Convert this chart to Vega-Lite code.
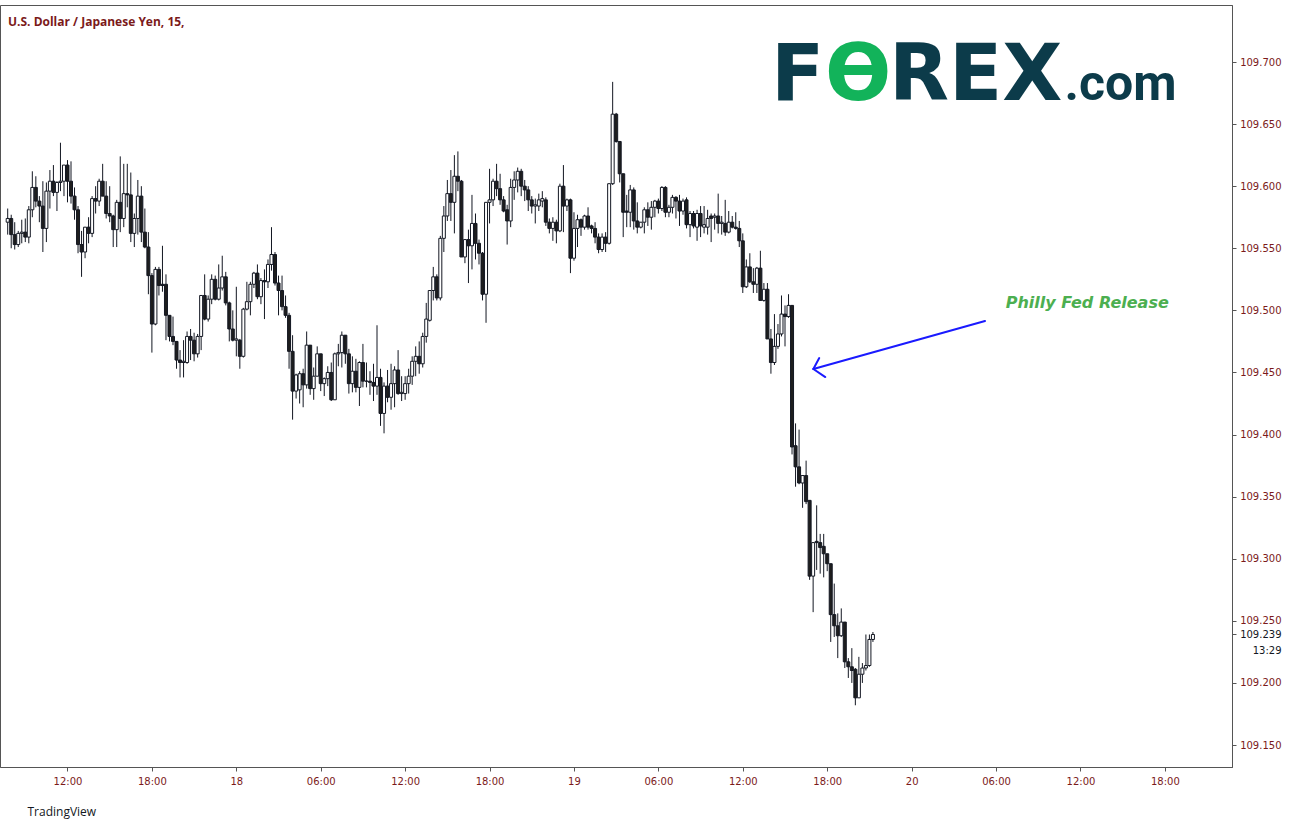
{
"$schema": "https://vega.github.io/schema/vega-lite/v6.json",
"width": 1232, "height": 762,
"autosize": {"type": "none"},
"padding": {"left": 0, "top": 5, "right": 64, "bottom": 63},
"background": "white",
"config": {"view": {"stroke": "#555555", "strokeWidth": 1}},
"title": {"text": "U.S. Dollar / Japanese Yen, 15,", "anchor": "start", "frame": "group", "orient": "top", "offset": -33, "dx": 8, "baseline": "alphabetic", "font": "Open Sans", "fontSize": 12, "fontWeight": "bold", "color": "#7b1a1a"},
"datasets": {
"candles": [
{"t":"2019-09-17T07:45:00Z","o":109.571,"h":109.582,"l":109.561,"c":109.574},
{"t":"2019-09-17T08:00:00Z","o":109.574,"h":109.577,"l":109.550,"c":109.561},
{"t":"2019-09-17T08:15:00Z","o":109.561,"h":109.571,"l":109.549,"c":109.553},
{"t":"2019-09-17T08:30:00Z","o":109.553,"h":109.564,"l":109.551,"c":109.562},
{"t":"2019-09-17T08:45:00Z","o":109.562,"h":109.573,"l":109.554,"c":109.563},
{"t":"2019-09-17T09:00:00Z","o":109.563,"h":109.574,"l":109.555,"c":109.559},
{"t":"2019-09-17T09:15:00Z","o":109.559,"h":109.584,"l":109.554,"c":109.581},
{"t":"2019-09-17T09:30:00Z","o":109.581,"h":109.612,"l":109.575,"c":109.599},
{"t":"2019-09-17T09:45:00Z","o":109.599,"h":109.608,"l":109.583,"c":109.588},
{"t":"2019-09-17T10:00:00Z","o":109.588,"h":109.592,"l":109.571,"c":109.584},
{"t":"2019-09-17T10:15:00Z","o":109.584,"h":109.604,"l":109.547,"c":109.566},
{"t":"2019-09-17T10:30:00Z","o":109.566,"h":109.603,"l":109.555,"c":109.596},
{"t":"2019-09-17T10:45:00Z","o":109.596,"h":109.613,"l":109.582,"c":109.604},
{"t":"2019-09-17T11:00:00Z","o":109.604,"h":109.617,"l":109.592,"c":109.595},
{"t":"2019-09-17T11:15:00Z","o":109.595,"h":109.604,"l":109.580,"c":109.603},
{"t":"2019-09-17T11:30:00Z","o":109.603,"h":109.635,"l":109.596,"c":109.604},
{"t":"2019-09-17T11:45:00Z","o":109.604,"h":109.617,"l":109.592,"c":109.617},
{"t":"2019-09-17T12:00:00Z","o":109.617,"h":109.621,"l":109.587,"c":109.604},
{"t":"2019-09-17T12:15:00Z","o":109.604,"h":109.620,"l":109.586,"c":109.592},
{"t":"2019-09-17T12:30:00Z","o":109.592,"h":109.599,"l":109.573,"c":109.581},
{"t":"2019-09-17T12:45:00Z","o":109.581,"h":109.584,"l":109.546,"c":109.553},
{"t":"2019-09-17T13:00:00Z","o":109.553,"h":109.564,"l":109.527,"c":109.547},
{"t":"2019-09-17T13:15:00Z","o":109.547,"h":109.567,"l":109.542,"c":109.567},
{"t":"2019-09-17T13:30:00Z","o":109.567,"h":109.575,"l":109.554,"c":109.562},
{"t":"2019-09-17T13:45:00Z","o":109.562,"h":109.592,"l":109.559,"c":109.590},
{"t":"2019-09-17T14:00:00Z","o":109.590,"h":109.600,"l":109.578,"c":109.588},
{"t":"2019-09-17T14:15:00Z","o":109.588,"h":109.606,"l":109.584,"c":109.604},
{"t":"2019-09-17T14:30:00Z","o":109.604,"h":109.618,"l":109.592,"c":109.592},
{"t":"2019-09-17T14:45:00Z","o":109.592,"h":109.604,"l":109.574,"c":109.578},
{"t":"2019-09-17T15:00:00Z","o":109.578,"h":109.600,"l":109.571,"c":109.576},
{"t":"2019-09-17T15:15:00Z","o":109.576,"h":109.577,"l":109.551,"c":109.565},
{"t":"2019-09-17T15:30:00Z","o":109.565,"h":109.589,"l":109.551,"c":109.587},
{"t":"2019-09-17T15:45:00Z","o":109.587,"h":109.624,"l":109.563,"c":109.574},
{"t":"2019-09-17T16:00:00Z","o":109.574,"h":109.618,"l":109.567,"c":109.594},
{"t":"2019-09-17T16:15:00Z","o":109.594,"h":109.618,"l":109.583,"c":109.593},
{"t":"2019-09-17T16:30:00Z","o":109.593,"h":109.611,"l":109.555,"c":109.562},
{"t":"2019-09-17T16:45:00Z","o":109.562,"h":109.578,"l":109.551,"c":109.574},
{"t":"2019-09-17T17:00:00Z","o":109.574,"h":109.605,"l":109.561,"c":109.592},
{"t":"2019-09-17T17:15:00Z","o":109.592,"h":109.600,"l":109.555,"c":109.563},
{"t":"2019-09-17T17:30:00Z","o":109.563,"h":109.582,"l":109.550,"c":109.551},
{"t":"2019-09-17T17:45:00Z","o":109.551,"h":109.563,"l":109.513,"c":109.528},
{"t":"2019-09-17T18:00:00Z","o":109.528,"h":109.530,"l":109.466,"c":109.489},
{"t":"2019-09-17T18:15:00Z","o":109.489,"h":109.535,"l":109.488,"c":109.533},
{"t":"2019-09-17T18:30:00Z","o":109.533,"h":109.535,"l":109.512,"c":109.520},
{"t":"2019-09-17T18:45:00Z","o":109.521,"h":109.552,"l":109.515,"c":109.520},
{"t":"2019-09-17T19:00:00Z","o":109.521,"h":109.529,"l":109.476,"c":109.496},
{"t":"2019-09-17T19:15:00Z","o":109.496,"h":109.496,"l":109.475,"c":109.479},
{"t":"2019-09-17T19:30:00Z","o":109.479,"h":109.495,"l":109.472,"c":109.475},
{"t":"2019-09-17T19:45:00Z","o":109.475,"h":109.475,"l":109.453,"c":109.460},
{"t":"2019-09-17T20:00:00Z","o":109.460,"h":109.468,"l":109.446,"c":109.458},
{"t":"2019-09-17T20:15:00Z","o":109.458,"h":109.476,"l":109.446,"c":109.459},
{"t":"2019-09-17T20:30:00Z","o":109.458,"h":109.483,"l":109.457,"c":109.479},
{"t":"2019-09-17T20:45:00Z","o":109.479,"h":109.485,"l":109.460,"c":109.476},
{"t":"2019-09-17T21:00:00Z","o":109.476,"h":109.482,"l":109.459,"c":109.465},
{"t":"2019-09-17T21:15:00Z","o":109.465,"h":109.481,"l":109.462,"c":109.479},
{"t":"2019-09-17T21:30:00Z","o":109.479,"h":109.512,"l":109.468,"c":109.512},
{"t":"2019-09-17T21:45:00Z","o":109.512,"h":109.529,"l":109.492,"c":109.493},
{"t":"2019-09-17T22:00:00Z","o":109.493,"h":109.512,"l":109.491,"c":109.509},
{"t":"2019-09-17T22:15:00Z","o":109.509,"h":109.529,"l":109.505,"c":109.525},
{"t":"2019-09-17T22:30:00Z","o":109.525,"h":109.528,"l":109.508,"c":109.509},
{"t":"2019-09-17T22:45:00Z","o":109.509,"h":109.537,"l":109.508,"c":109.518},
{"t":"2019-09-17T23:00:00Z","o":109.518,"h":109.544,"l":109.516,"c":109.527},
{"t":"2019-09-17T23:15:00Z","o":109.527,"h":109.531,"l":109.504,"c":109.506},
{"t":"2019-09-17T23:30:00Z","o":109.506,"h":109.507,"l":109.475,"c":109.485},
{"t":"2019-09-17T23:45:00Z","o":109.485,"h":109.500,"l":109.475,"c":109.476},
{"t":"2019-09-18T00:00:00Z","o":109.476,"h":109.519,"l":109.463,"c":109.477},
{"t":"2019-09-18T00:15:00Z","o":109.476,"h":109.477,"l":109.453,"c":109.463},
{"t":"2019-09-18T00:30:00Z","o":109.463,"h":109.502,"l":109.462,"c":109.501},
{"t":"2019-09-18T00:45:00Z","o":109.501,"h":109.523,"l":109.500,"c":109.507},
{"t":"2019-09-18T01:00:00Z","o":109.507,"h":109.523,"l":109.496,"c":109.521},
{"t":"2019-09-18T01:15:00Z","o":109.521,"h":109.531,"l":109.518,"c":109.530},
{"t":"2019-09-18T01:30:00Z","o":109.530,"h":109.537,"l":109.509,"c":109.511},
{"t":"2019-09-18T01:45:00Z","o":109.511,"h":109.526,"l":109.505,"c":109.524},
{"t":"2019-09-18T02:00:00Z","o":109.524,"h":109.533,"l":109.493,"c":109.523},
{"t":"2019-09-18T02:15:00Z","o":109.523,"h":109.541,"l":109.518,"c":109.537},
{"t":"2019-09-18T02:30:00Z","o":109.537,"h":109.567,"l":109.532,"c":109.545},
{"t":"2019-09-18T02:45:00Z","o":109.545,"h":109.547,"l":109.520,"c":109.522},
{"t":"2019-09-18T03:00:00Z","o":109.522,"h":109.528,"l":109.496,"c":109.516},
{"t":"2019-09-18T03:15:00Z","o":109.516,"h":109.528,"l":109.500,"c":109.503},
{"t":"2019-09-18T03:30:00Z","o":109.503,"h":109.512,"l":109.494,"c":109.496},
{"t":"2019-09-18T03:45:00Z","o":109.496,"h":109.498,"l":109.453,"c":109.467},
{"t":"2019-09-18T04:00:00Z","o":109.467,"h":109.480,"l":109.412,"c":109.435},
{"t":"2019-09-18T04:15:00Z","o":109.435,"h":109.449,"l":109.429,"c":109.448},
{"t":"2019-09-18T04:30:00Z","o":109.436,"h":109.451,"l":109.425,"c":109.449},
{"t":"2019-09-18T04:45:00Z","o":109.449,"h":109.453,"l":109.422,"c":109.440},
{"t":"2019-09-18T05:00:00Z","o":109.440,"h":109.483,"l":109.437,"c":109.472},
{"t":"2019-09-18T05:15:00Z","o":109.472,"h":109.472,"l":109.432,"c":109.437},
{"t":"2019-09-18T05:30:00Z","o":109.437,"h":109.454,"l":109.428,"c":109.447},
{"t":"2019-09-18T05:45:00Z","o":109.447,"h":109.471,"l":109.447,"c":109.465},
{"t":"2019-09-18T06:00:00Z","o":109.465,"h":109.465,"l":109.435,"c":109.441},
{"t":"2019-09-18T06:15:00Z","o":109.441,"h":109.446,"l":109.431,"c":109.445},
{"t":"2019-09-18T06:30:00Z","o":109.445,"h":109.455,"l":109.439,"c":109.450},
{"t":"2019-09-18T06:45:00Z","o":109.450,"h":109.458,"l":109.427,"c":109.428},
{"t":"2019-09-18T07:00:00Z","o":109.428,"h":109.466,"l":109.428,"c":109.465},
{"t":"2019-09-18T07:15:00Z","o":109.465,"h":109.473,"l":109.455,"c":109.466},
{"t":"2019-09-18T07:30:00Z","o":109.466,"h":109.483,"l":109.454,"c":109.480},
{"t":"2019-09-18T07:45:00Z","o":109.480,"h":109.480,"l":109.457,"c":109.465},
{"t":"2019-09-18T08:00:00Z","o":109.465,"h":109.469,"l":109.433,"c":109.441},
{"t":"2019-09-18T08:15:00Z","o":109.441,"h":109.463,"l":109.434,"c":109.451},
{"t":"2019-09-18T08:30:00Z","o":109.451,"h":109.461,"l":109.434,"c":109.438},
{"t":"2019-09-18T08:45:00Z","o":109.438,"h":109.459,"l":109.423,"c":109.458},
{"t":"2019-09-18T09:00:00Z","o":109.458,"h":109.473,"l":109.438,"c":109.443},
{"t":"2019-09-18T09:15:00Z","o":109.443,"h":109.458,"l":109.438,"c":109.443},
{"t":"2019-09-18T09:30:00Z","o":109.443,"h":109.451,"l":109.432,"c":109.442},
{"t":"2019-09-18T09:45:00Z","o":109.442,"h":109.457,"l":109.427,"c":109.439},
{"t":"2019-09-18T10:00:00Z","o":109.439,"h":109.488,"l":109.432,"c":109.446},
{"t":"2019-09-18T10:15:00Z","o":109.446,"h":109.453,"l":109.407,"c":109.417},
{"t":"2019-09-18T10:30:00Z","o":109.417,"h":109.442,"l":109.401,"c":109.439},
{"t":"2019-09-18T10:45:00Z","o":109.439,"h":109.452,"l":109.426,"c":109.430},
{"t":"2019-09-18T11:00:00Z","o":109.430,"h":109.457,"l":109.420,"c":109.441},
{"t":"2019-09-18T11:15:00Z","o":109.441,"h":109.455,"l":109.422,"c":109.452},
{"t":"2019-09-18T11:30:00Z","o":109.452,"h":109.468,"l":109.432,"c":109.433},
{"t":"2019-09-18T11:45:00Z","o":109.433,"h":109.447,"l":109.427,"c":109.434},
{"t":"2019-09-18T12:00:00Z","o":109.433,"h":109.447,"l":109.428,"c":109.441},
{"t":"2019-09-18T12:15:00Z","o":109.441,"h":109.453,"l":109.433,"c":109.447},
{"t":"2019-09-18T12:30:00Z","o":109.447,"h":109.463,"l":109.440,"c":109.459},
{"t":"2019-09-18T12:45:00Z","o":109.459,"h":109.471,"l":109.447,"c":109.463},
{"t":"2019-09-18T13:00:00Z","o":109.463,"h":109.475,"l":109.449,"c":109.457},
{"t":"2019-09-18T13:15:00Z","o":109.457,"h":109.482,"l":109.454,"c":109.479},
{"t":"2019-09-18T13:30:00Z","o":109.479,"h":109.506,"l":109.474,"c":109.493},
{"t":"2019-09-18T13:45:00Z","o":109.492,"h":109.516,"l":109.491,"c":109.516},
{"t":"2019-09-18T14:00:00Z","o":109.516,"h":109.535,"l":109.508,"c":109.527},
{"t":"2019-09-18T14:15:00Z","o":109.527,"h":109.529,"l":109.508,"c":109.510},
{"t":"2019-09-18T14:30:00Z","o":109.510,"h":109.560,"l":109.508,"c":109.558},
{"t":"2019-09-18T14:45:00Z","o":109.558,"h":109.584,"l":109.547,"c":109.576},
{"t":"2019-09-18T15:00:00Z","o":109.576,"h":109.605,"l":109.572,"c":109.594},
{"t":"2019-09-18T15:15:00Z","o":109.594,"h":109.613,"l":109.572,"c":109.587},
{"t":"2019-09-18T15:30:00Z","o":109.587,"h":109.625,"l":109.562,"c":109.608},
{"t":"2019-09-18T15:45:00Z","o":109.608,"h":109.628,"l":109.596,"c":109.604},
{"t":"2019-09-18T16:00:00Z","o":109.604,"h":109.605,"l":109.543,"c":109.543},
{"t":"2019-09-18T16:15:00Z","o":109.543,"h":109.557,"l":109.538,"c":109.557},
{"t":"2019-09-18T16:30:00Z","o":109.557,"h":109.565,"l":109.522,"c":109.552},
{"t":"2019-09-18T16:45:00Z","o":109.552,"h":109.593,"l":109.533,"c":109.570},
{"t":"2019-09-18T17:00:00Z","o":109.570,"h":109.578,"l":109.541,"c":109.554},
{"t":"2019-09-18T17:15:00Z","o":109.554,"h":109.557,"l":109.537,"c":109.546},
{"t":"2019-09-18T17:30:00Z","o":109.546,"h":109.547,"l":109.508,"c":109.513},
{"t":"2019-09-18T17:45:00Z","o":109.513,"h":109.587,"l":109.490,"c":109.587},
{"t":"2019-09-18T18:00:00Z","o":109.587,"h":109.614,"l":109.570,"c":109.589},
{"t":"2019-09-18T18:15:00Z","o":109.589,"h":109.606,"l":109.584,"c":109.604},
{"t":"2019-09-18T18:30:00Z","o":109.604,"h":109.618,"l":109.592,"c":109.598},
{"t":"2019-09-18T18:45:00Z","o":109.598,"h":109.610,"l":109.585,"c":109.589},
{"t":"2019-09-18T19:00:00Z","o":109.589,"h":109.592,"l":109.579,"c":109.580},
{"t":"2019-09-18T19:15:00Z","o":109.581,"h":109.585,"l":109.553,"c":109.572},
{"t":"2019-09-18T19:30:00Z","o":109.572,"h":109.606,"l":109.567,"c":109.599},
{"t":"2019-09-18T19:45:00Z","o":109.599,"h":109.612,"l":109.589,"c":109.605},
{"t":"2019-09-18T20:00:00Z","o":109.605,"h":109.615,"l":109.595,"c":109.612},
{"t":"2019-09-18T20:15:00Z","o":109.612,"h":109.614,"l":109.592,"c":109.600},
{"t":"2019-09-18T20:30:00Z","o":109.600,"h":109.605,"l":109.588,"c":109.597},
{"t":"2019-09-18T20:45:00Z","o":109.597,"h":109.600,"l":109.580,"c":109.589},
{"t":"2019-09-18T21:00:00Z","o":109.589,"h":109.592,"l":109.578,"c":109.584},
{"t":"2019-09-18T21:15:00Z","o":109.584,"h":109.590,"l":109.570,"c":109.585},
{"t":"2019-09-18T21:30:00Z","o":109.584,"h":109.594,"l":109.580,"c":109.589},
{"t":"2019-09-18T21:45:00Z","o":109.588,"h":109.596,"l":109.583,"c":109.590},
{"t":"2019-09-18T22:00:00Z","o":109.589,"h":109.591,"l":109.568,"c":109.571},
{"t":"2019-09-18T22:15:00Z","o":109.571,"h":109.574,"l":109.562,"c":109.566},
{"t":"2019-09-18T22:30:00Z","o":109.566,"h":109.575,"l":109.556,"c":109.571},
{"t":"2019-09-18T22:45:00Z","o":109.571,"h":109.573,"l":109.554,"c":109.564},
{"t":"2019-09-18T23:00:00Z","o":109.564,"h":109.602,"l":109.563,"c":109.600},
{"t":"2019-09-18T23:15:00Z","o":109.600,"h":109.617,"l":109.563,"c":109.584},
{"t":"2019-09-18T23:30:00Z","o":109.584,"h":109.590,"l":109.580,"c":109.589},
{"t":"2019-09-18T23:45:00Z","o":109.589,"h":109.590,"l":109.530,"c":109.542},
{"t":"2019-09-19T00:00:00Z","o":109.542,"h":109.579,"l":109.540,"c":109.566},
{"t":"2019-09-19T00:15:00Z","o":109.566,"h":109.577,"l":109.551,"c":109.573},
{"t":"2019-09-19T00:30:00Z","o":109.573,"h":109.574,"l":109.560,"c":109.567},
{"t":"2019-09-19T00:45:00Z","o":109.567,"h":109.577,"l":109.565,"c":109.576},
{"t":"2019-09-19T01:00:00Z","o":109.576,"h":109.583,"l":109.565,"c":109.567},
{"t":"2019-09-19T01:15:00Z","o":109.568,"h":109.569,"l":109.562,"c":109.566},
{"t":"2019-09-19T01:30:00Z","o":109.566,"h":109.571,"l":109.554,"c":109.559},
{"t":"2019-09-19T01:45:00Z","o":109.559,"h":109.562,"l":109.546,"c":109.549},
{"t":"2019-09-19T02:00:00Z","o":109.549,"h":109.562,"l":109.547,"c":109.559},
{"t":"2019-09-19T02:15:00Z","o":109.559,"h":109.563,"l":109.547,"c":109.554},
{"t":"2019-09-19T02:30:00Z","o":109.554,"h":109.602,"l":109.553,"c":109.602},
{"t":"2019-09-19T02:45:00Z","o":109.602,"h":109.684,"l":109.601,"c":109.658},
{"t":"2019-09-19T03:00:00Z","o":109.658,"h":109.659,"l":109.635,"c":109.636},
{"t":"2019-09-19T03:15:00Z","o":109.636,"h":109.636,"l":109.603,"c":109.610},
{"t":"2019-09-19T03:30:00Z","o":109.610,"h":109.610,"l":109.559,"c":109.579},
{"t":"2019-09-19T03:45:00Z","o":109.580,"h":109.593,"l":109.567,"c":109.579},
{"t":"2019-09-19T04:00:00Z","o":109.579,"h":109.601,"l":109.567,"c":109.597},
{"t":"2019-09-19T04:15:00Z","o":109.597,"h":109.599,"l":109.565,"c":109.572},
{"t":"2019-09-19T04:30:00Z","o":109.572,"h":109.587,"l":109.562,"c":109.567},
{"t":"2019-09-19T04:45:00Z","o":109.567,"h":109.571,"l":109.566,"c":109.571},
{"t":"2019-09-19T05:00:00Z","o":109.571,"h":109.583,"l":109.562,"c":109.581},
{"t":"2019-09-19T05:15:00Z","o":109.581,"h":109.587,"l":109.568,"c":109.575},
{"t":"2019-09-19T05:30:00Z","o":109.575,"h":109.588,"l":109.565,"c":109.583},
{"t":"2019-09-19T05:45:00Z","o":109.583,"h":109.589,"l":109.575,"c":109.588},
{"t":"2019-09-19T06:00:00Z","o":109.588,"h":109.590,"l":109.578,"c":109.582},
{"t":"2019-09-19T06:15:00Z","o":109.582,"h":109.600,"l":109.580,"c":109.599},
{"t":"2019-09-19T06:30:00Z","o":109.599,"h":109.600,"l":109.575,"c":109.579},
{"t":"2019-09-19T06:45:00Z","o":109.579,"h":109.585,"l":109.575,"c":109.583},
{"t":"2019-09-19T07:00:00Z","o":109.583,"h":109.593,"l":109.578,"c":109.591},
{"t":"2019-09-19T07:15:00Z","o":109.591,"h":109.592,"l":109.574,"c":109.588},
{"t":"2019-09-19T07:30:00Z","o":109.588,"h":109.593,"l":109.568,"c":109.580},
{"t":"2019-09-19T07:45:00Z","o":109.580,"h":109.590,"l":109.577,"c":109.588},
{"t":"2019-09-19T08:00:00Z","o":109.589,"h":109.591,"l":109.566,"c":109.569},
{"t":"2019-09-19T08:15:00Z","o":109.569,"h":109.580,"l":109.559,"c":109.578},
{"t":"2019-09-19T08:30:00Z","o":109.578,"h":109.580,"l":109.566,"c":109.568},
{"t":"2019-09-19T08:45:00Z","o":109.567,"h":109.581,"l":109.556,"c":109.578},
{"t":"2019-09-19T09:00:00Z","o":109.578,"h":109.584,"l":109.559,"c":109.568},
{"t":"2019-09-19T09:15:00Z","o":109.567,"h":109.584,"l":109.562,"c":109.569},
{"t":"2019-09-19T09:30:00Z","o":109.567,"h":109.581,"l":109.561,"c":109.574},
{"t":"2019-09-19T09:45:00Z","o":109.576,"h":109.578,"l":109.555,"c":109.574},
{"t":"2019-09-19T10:00:00Z","o":109.575,"h":109.578,"l":109.565,"c":109.576},
{"t":"2019-09-19T10:15:00Z","o":109.576,"h":109.594,"l":109.562,"c":109.570},
{"t":"2019-09-19T10:30:00Z","o":109.570,"h":109.576,"l":109.561,"c":109.571},
{"t":"2019-09-19T10:45:00Z","o":109.570,"h":109.589,"l":109.560,"c":109.563},
{"t":"2019-09-19T11:00:00Z","o":109.563,"h":109.580,"l":109.562,"c":109.571},
{"t":"2019-09-19T11:15:00Z","o":109.571,"h":109.576,"l":109.566,"c":109.567},
{"t":"2019-09-19T11:30:00Z","o":109.567,"h":109.579,"l":109.565,"c":109.566},
{"t":"2019-09-19T11:45:00Z","o":109.566,"h":109.572,"l":109.551,"c":109.556},
{"t":"2019-09-19T12:00:00Z","o":109.556,"h":109.562,"l":109.514,"c":109.519},
{"t":"2019-09-19T12:15:00Z","o":109.519,"h":109.541,"l":109.518,"c":109.535},
{"t":"2019-09-19T12:30:00Z","o":109.535,"h":109.546,"l":109.522,"c":109.523},
{"t":"2019-09-19T12:45:00Z","o":109.523,"h":109.534,"l":109.514,"c":109.521},
{"t":"2019-09-19T13:00:00Z","o":109.521,"h":109.535,"l":109.514,"c":109.534},
{"t":"2019-09-19T13:15:00Z","o":109.534,"h":109.548,"l":109.508,"c":109.508},
{"t":"2019-09-19T13:30:00Z","o":109.508,"h":109.522,"l":109.507,"c":109.517},
{"t":"2019-09-19T13:45:00Z","o":109.517,"h":109.522,"l":109.477,"c":109.477},
{"t":"2019-09-19T14:00:00Z","o":109.477,"h":109.485,"l":109.449,"c":109.458},
{"t":"2019-09-19T14:15:00Z","o":109.458,"h":109.497,"l":109.456,"c":109.471},
{"t":"2019-09-19T14:30:00Z","o":109.471,"h":109.489,"l":109.469,"c":109.481},
{"t":"2019-09-19T14:45:00Z","o":109.481,"h":109.512,"l":109.479,"c":109.497},
{"t":"2019-09-19T15:00:00Z","o":109.497,"h":109.504,"l":109.471,"c":109.495},
{"t":"2019-09-19T15:15:00Z","o":109.495,"h":109.513,"l":109.494,"c":109.504},
{"t":"2019-09-19T15:30:00Z","o":109.504,"h":109.504,"l":109.384,"c":109.390},
{"t":"2019-09-19T15:45:00Z","o":109.391,"h":109.409,"l":109.358,"c":109.374},
{"t":"2019-09-19T16:00:00Z","o":109.374,"h":109.404,"l":109.360,"c":109.361},
{"t":"2019-09-19T16:15:00Z","o":109.361,"h":109.367,"l":109.341,"c":109.367},
{"t":"2019-09-19T16:30:00Z","o":109.367,"h":109.379,"l":109.344,"c":109.346},
{"t":"2019-09-19T16:45:00Z","o":109.347,"h":109.347,"l":109.283,"c":109.286},
{"t":"2019-09-19T17:00:00Z","o":109.286,"h":109.313,"l":109.257,"c":109.313},
{"t":"2019-09-19T17:15:00Z","o":109.314,"h":109.343,"l":109.291,"c":109.313},
{"t":"2019-09-19T17:30:00Z","o":109.313,"h":109.320,"l":109.288,"c":109.309},
{"t":"2019-09-19T17:45:00Z","o":109.310,"h":109.320,"l":109.285,"c":109.304},
{"t":"2019-09-19T18:00:00Z","o":109.304,"h":109.304,"l":109.290,"c":109.296},
{"t":"2019-09-19T18:15:00Z","o":109.296,"h":109.296,"l":109.233,"c":109.255},
{"t":"2019-09-19T18:30:00Z","o":109.255,"h":109.280,"l":109.237,"c":109.246},
{"t":"2019-09-19T18:45:00Z","o":109.246,"h":109.256,"l":109.220,"c":109.238},
{"t":"2019-09-19T19:00:00Z","o":109.238,"h":109.260,"l":109.237,"c":109.249},
{"t":"2019-09-19T19:15:00Z","o":109.249,"h":109.249,"l":109.212,"c":109.217},
{"t":"2019-09-19T19:30:00Z","o":109.217,"h":109.220,"l":109.204,"c":109.213},
{"t":"2019-09-19T19:45:00Z","o":109.213,"h":109.228,"l":109.200,"c":109.210},
{"t":"2019-09-19T20:00:00Z","o":109.211,"h":109.212,"l":109.182,"c":109.188},
{"t":"2019-09-19T20:15:00Z","o":109.188,"h":109.221,"l":109.188,"c":109.207},
{"t":"2019-09-19T20:30:00Z","o":109.207,"h":109.216,"l":109.200,"c":109.212},
{"t":"2019-09-19T20:45:00Z","o":109.212,"h":109.239,"l":109.210,"c":109.214},
{"t":"2019-09-19T21:00:00Z","o":109.214,"h":109.239,"l":109.213,"c":109.235},
{"t":"2019-09-19T21:15:00Z","o":109.235,"h":109.241,"l":109.233,"c":109.239}
],
"arrow": [
{"seg":"shaft","t":"2019-09-20T05:13:00Z","p":109.4914},
{"seg":"shaft","t":"2019-09-19T17:01:00Z","p":109.4528},
{"seg":"head1","t":"2019-09-19T17:01:00Z","p":109.4528},
{"seg":"head1","t":"2019-09-19T17:26:00Z","p":109.4616},
{"seg":"head2","t":"2019-09-19T17:01:00Z","p":109.4528},
{"seg":"head2","t":"2019-09-19T17:52:00Z","p":109.4463}
],
"notes": [
{"kind":"logo","t":"2019-09-19T14:00:00Z","p":109.6694,"label":"F"},
{"kind":"logoO","t":"2019-09-19T20:12:00Z","p":109.6694,"label":"Ɵ"},
{"kind":"logo","t":"2019-09-19T22:23:00Z","p":109.6694,"label":"REX"},
{"kind":"com","t":"2019-09-20T10:52:00Z","p":109.6694,"label":".com"},
{"kind":"event","t":"2019-09-20T12:29:00Z","p":109.5059,"label":"Philly Fed Release"}
]
},
"layer": [
{
"data": {"name": "candles"},
"mark": {"type": "rule", "color": "#131722", "strokeWidth": 1},
"encoding": {
"x": {"field": "t", "type": "temporal", "title": "TradingView",
 "scale": {"type": "utc", "domain": [{"year": 2019, "month": 9, "date": 17, "hours": 7, "minutes": 33, "seconds": 30, "utc": true}, {"year": 2019, "month": 9, "date": 20, "hours": 22, "minutes": 25, "utc": true}]},
 "axis": {
  "values": [
   {"year": 2019, "month": 9, "date": 17, "hours": 12, "utc": true},
   {"year": 2019, "month": 9, "date": 17, "hours": 18, "utc": true},
   {"year": 2019, "month": 9, "date": 18, "hours": 0, "utc": true},
   {"year": 2019, "month": 9, "date": 18, "hours": 6, "utc": true},
   {"year": 2019, "month": 9, "date": 18, "hours": 12, "utc": true},
   {"year": 2019, "month": 9, "date": 18, "hours": 18, "utc": true},
   {"year": 2019, "month": 9, "date": 19, "hours": 0, "utc": true},
   {"year": 2019, "month": 9, "date": 19, "hours": 6, "utc": true},
   {"year": 2019, "month": 9, "date": 19, "hours": 12, "utc": true},
   {"year": 2019, "month": 9, "date": 19, "hours": 18, "utc": true},
   {"year": 2019, "month": 9, "date": 20, "hours": 0, "utc": true},
   {"year": 2019, "month": 9, "date": 20, "hours": 6, "utc": true},
   {"year": 2019, "month": 9, "date": 20, "hours": 12, "utc": true},
   {"year": 2019, "month": 9, "date": 20, "hours": 18, "utc": true}
  ],
  "labelExpr": "utchours(datum.value) == 0 ? utcFormat(datum.value, '%d') : utcFormat(datum.value, '%H:%M')",
  "grid": false, "domainColor": "#555555", "tickColor": "#555555", "tickSize": 4,
  "labelColor": "#7b1a1a", "labelFont": "DejaVu Sans", "labelFontSize": 10, "labelPadding": 5,
  "labelFlush": false, "labelOverlap": false,
  "title": "TradingView", "titleAnchor": "start", "titleAlign": "left", "titleX": 27, "titleY": 44,
  "titleBaseline": "middle", "titleFont": "Open Sans", "titleFontSize": 12, "titleFontWeight": "normal", "titleColor": "#131722"
 }},
"y": {"field": "l", "type": "quantitative", "title": null,
 "scale": {"domain": [109.1323, 109.7459], "zero": false, "nice": false},
 "axis": {
  "orient": "right",
  "values": [109.15, 109.2, 109.2265, 109.239, 109.25, 109.3, 109.35, 109.4, 109.45, 109.5, 109.55, 109.6, 109.65, 109.7],
  "labelExpr": "abs(datum.value - 109.2265) < 0.0005 ? '13:29' : format(datum.value, '.3f')",
  "grid": false, "domainColor": "#555555", "tickSize": 4,
  "tickColor": {"condition": {"test": "abs(datum.value - 109.2265) < 0.0005", "value": "transparent"}, "value": "#555555"},
  "labelColor": {"condition": {"test": "abs(datum.value - 109.239) < 0.0005 || abs(datum.value - 109.2265) < 0.0005", "value": "#131722"}, "value": "#7b1a1a"},
  "labelAlign": "right", "labelPadding": 45, "labelBaseline": "middle",
  "labelFont": "DejaVu Sans", "labelFontSize": 10, "labelOverlap": false, "labelFlush": false,
  "title": null
 }},
"y2": {"field": "h"}
}
},
{
"data": {"name": "candles"},
"mark": {"type": "bar", "size": 3, "stroke": "#131722", "strokeWidth": 1},
"encoding": {
"x": {"field": "t", "type": "temporal", "title": "TradingView"},
"y": {"field": "o", "type": "quantitative", "title": null},
"y2": {"field": "c"},
"fill": {"condition": {"test": "datum.c < datum.o", "value": "#1e1e1e"}, "value": "#ffffff"}
}
},
{
"data": {"name": "arrow"},
"mark": {"type": "line", "color": "#1a1aff", "strokeWidth": 2, "strokeCap": "round"},
"encoding": {
"x": {"field": "t", "type": "temporal", "title": "TradingView"},
"y": {"field": "p", "type": "quantitative", "title": null},
"detail": {"field": "seg"}
}
},
{
"data": {"name": "notes"},
"transform": [{"filter": "datum.kind == 'logo'"}],
"mark": {"type": "text", "font": "DejaVu Sans", "fontWeight": "bold", "fontSize": 78, "color": "#0c3b4a", "align": "left", "baseline": "alphabetic"},
"encoding": {
"x": {"field": "t", "type": "temporal", "title": "TradingView"},
"y": {"field": "p", "type": "quantitative", "title": null},
"text": {"field": "label"}
}
},
{
"data": {"name": "notes"},
"transform": [{"filter": "datum.kind == 'logoO'"}],
"mark": {"type": "text", "font": "DejaVu Sans", "fontWeight": "bold", "fontSize": 78, "color": "#12b35a", "align": "center", "baseline": "alphabetic"},
"encoding": {
"x": {"field": "t", "type": "temporal", "title": "TradingView"},
"y": {"field": "p", "type": "quantitative", "title": null},
"text": {"field": "label"}
}
},
{
"data": {"name": "notes"},
"transform": [{"filter": "datum.kind == 'com'"}],
"mark": {"type": "text", "font": "Roboto", "fontWeight": "bold", "fontSize": 50, "color": "#0c3b4a", "align": "left", "baseline": "alphabetic"},
"encoding": {
"x": {"field": "t", "type": "temporal", "title": "TradingView"},
"y": {"field": "p", "type": "quantitative", "title": null},
"text": {"field": "label"}
}
},
{
"data": {"name": "notes"},
"transform": [{"filter": "datum.kind == 'event'"}],
"mark": {"type": "text", "font": "DejaVu Sans", "fontWeight": "bold", "fontStyle": "italic", "fontSize": 16, "color": "#4caf50", "align": "center", "baseline": "middle"},
"encoding": {
"x": {"field": "t", "type": "temporal", "title": "TradingView"},
"y": {"field": "p", "type": "quantitative", "title": null},
"text": {"field": "label"}
}
}
]
}
